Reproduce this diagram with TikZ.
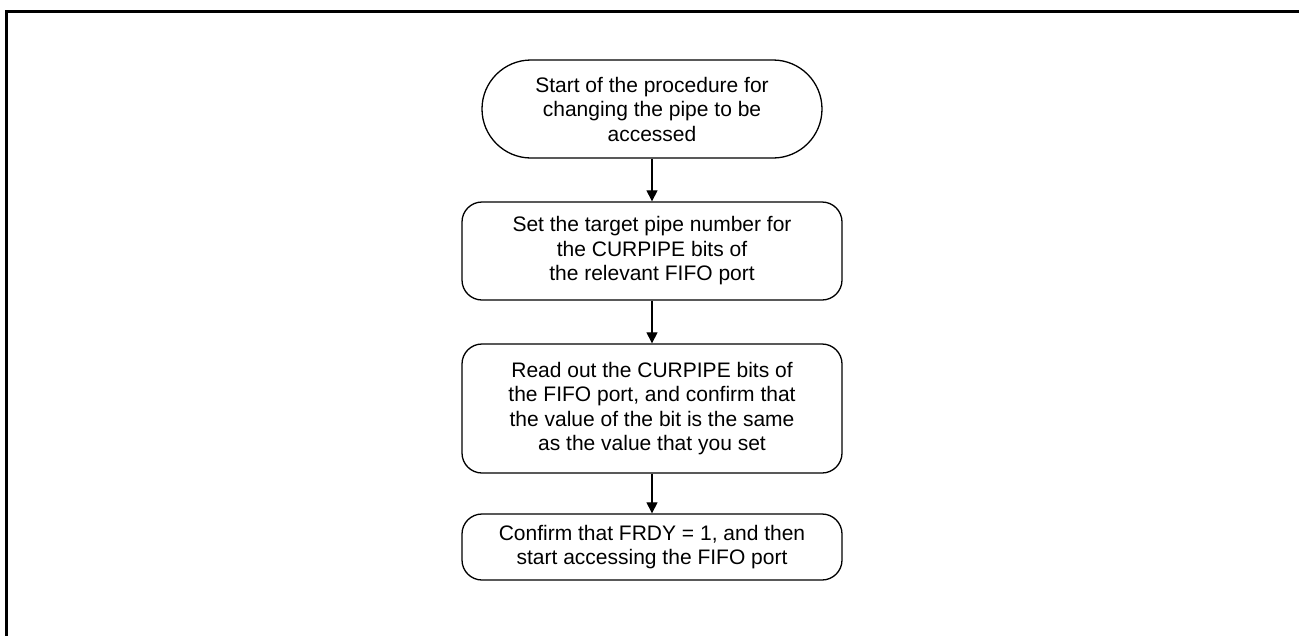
\documentclass[tikz,border=0pt]{standalone}
\usepackage{fontspec}
\setmainfont{Liberation Sans}
\usetikzlibrary{arrows.meta}
\begin{document}
\begin{tikzpicture}[x=1pt,y=-1pt,
  box/.style={draw=black, line width=1.3pt, rounded corners=20pt, minimum width=380pt, align=center, inner sep=0pt, font=\fontsize{21}{24.5}\selectfont},
  term/.style={box, rounded corners=49pt, minimum width=340pt, minimum height=98pt},
  flow/.style={line width=1.1pt, -{Triangle[length=11pt,width=11pt]}}]
\useasboundingbox (0,0) rectangle (1299,635);
\draw[line width=3pt] (6,636) -- (6,11) -- (1300,11);
\node[term] (s) at (652,109) {Start of the procedure for\\changing the pipe to be\\accessed};
\node[box, minimum height=98pt] (b2) at (652,251) {Set the target pipe number for\\the CURPIPE bits of\\the relevant FIFO port};
\node[box, minimum height=129pt] (b3) at (652,408.5) {Read out the CURPIPE bits of\\the FIFO port, and confirm that\\the value of the bit is the same\\as the value that you set};
\node[box, minimum height=66pt] (b4) at (652,547) {Confirm that FRDY = 1, and then\\start accessing the FIFO port};
\draw[flow] (s) -- (b2);
\draw[flow] (b2) -- (b3);
\draw[flow] (b3) -- (b4);
\end{tikzpicture}
\end{document}
